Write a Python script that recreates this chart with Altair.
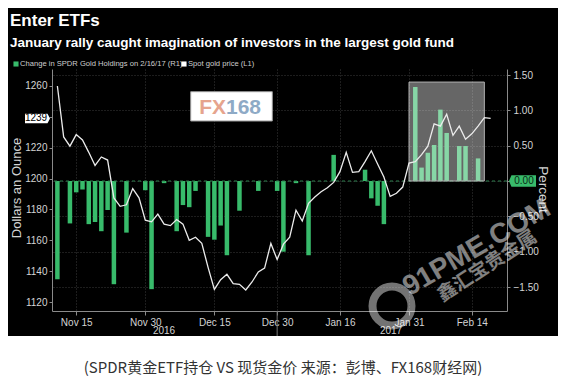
import json
import altair as alt
import pandas as pd

# ---------------- data ----------------
dates = [
    "2016-11-10", "2016-11-11", "2016-11-14", "2016-11-15", "2016-11-16", "2016-11-17", "2016-11-18",
    "2016-11-21", "2016-11-22", "2016-11-23", "2016-11-24", "2016-11-25", "2016-11-28", "2016-11-29",
    "2016-11-30", "2016-12-01", "2016-12-02", "2016-12-05", "2016-12-06", "2016-12-07", "2016-12-08",
    "2016-12-09", "2016-12-12", "2016-12-13", "2016-12-14", "2016-12-15", "2016-12-16", "2016-12-19",
    "2016-12-20", "2016-12-21", "2016-12-22", "2016-12-23", "2016-12-27", "2016-12-28", "2016-12-29",
    "2016-12-30", "2017-01-03", "2017-01-04", "2017-01-05", "2017-01-06", "2017-01-09", "2017-01-10",
    "2017-01-11", "2017-01-12", "2017-01-13", "2017-01-16", "2017-01-17", "2017-01-18", "2017-01-19",
    "2017-01-20", "2017-01-23", "2017-01-24", "2017-01-25", "2017-01-26", "2017-01-27", "2017-01-30",
    "2017-01-31", "2017-02-01", "2017-02-02", "2017-02-03", "2017-02-06", "2017-02-07", "2017-02-08",
    "2017-02-09", "2017-02-10", "2017-02-13", "2017-02-14", "2017-02-15", "2017-02-16", "2017-02-17",
]
prices = [
    1260, 1227, 1221, 1228.5, 1225, 1217, 1208.5, 1214, 1212, 1187.5,
    1182, 1183, 1193.5, 1187.5, 1173, 1172, 1177, 1170.5, 1169.5, 1173.5,
    1170.5, 1160, 1162, 1158, 1142.5, 1128.2, 1134.5, 1138, 1132, 1131.5,
    1127.8, 1133, 1139.5, 1142, 1158, 1147.5, 1157.5, 1162, 1179.5, 1172.5,
    1184, 1188, 1191.5, 1194, 1197.5, 1204.5, 1217, 1204, 1204.5, 1211,
    1218, 1209.5, 1201, 1188.5, 1190.5, 1194.5, 1210, 1211, 1215.5, 1221,
    1235.5, 1234, 1241.7, 1228, 1234, 1225.5, 1229, 1234, 1239.5, 1239,
]
bar_dates = [
    "2016-11-10", "2016-11-14", "2016-11-15", "2016-11-16", "2016-11-17", "2016-11-18", "2016-11-21",
    "2016-11-22", "2016-11-23", "2016-11-25", "2016-11-30", "2016-12-01", "2016-12-05", "2016-12-07",
    "2016-12-08", "2016-12-09", "2016-12-12", "2016-12-14", "2016-12-15", "2016-12-16", "2016-12-19",
    "2016-12-21", "2016-12-27", "2016-12-30", "2017-01-03", "2017-01-05", "2017-01-09", "2017-01-13",
    "2017-01-20", "2017-01-23", "2017-01-24", "2017-01-25", "2017-02-01", "2017-02-02", "2017-02-03",
    "2017-02-06", "2017-02-07", "2017-02-08", "2017-02-10", "2017-02-13", "2017-02-15",
]
bar_values = [
    -1.39, -0.60, -0.16, -0.12, -0.61, -0.58, -0.71,
    -0.41, -1.46, -0.73, -0.13, -1.53, -0.03, -0.71,
    -0.34, -0.37, -0.14, -0.79, -0.83, -0.63, -1.05,
    -0.42, -0.14, -0.14, -1.00, -0.03, -1.05, 0.37,
    0.16, -0.245, -0.35, -0.61, 1.33, 0.19, 0.40,
    0.51, 1.01, 0.68, 0.495, 0.495, 0.32,
]
tick_dates = ["2016-11-15", "2016-11-30", "2016-12-15", "2016-12-30", "2017-01-16", "2017-01-31", "2017-02-14"]
tick_labels = ["Nov 15", "Nov 30", "Dec 15", "Dec 30", "Jan 16", "Jan 31", "Feb 14"]
price_ticks = [1120, 1140, 1160, 1180, 1200, 1220, 1240, 1260]
pct_ticks = [-1.5, -1.0, -0.5, 0.0, 0.5, 1.0, 1.5]
box_dates = ["2017-01-31", "2017-02-16"]
box_top = [1.40]
year_labels = ["2016", "2017"]
year_split = "2016-12-30"

title_text = "Enter ETFs"
subtitle_text = "January rally caught imagination of investors in the largest gold fund"
legend_texts = ["Change in SPDR Gold Holdings on 2/16/17 (R1)", "Spot gold price (L1)"]
left_title = "Dollars an Ounce"
right_title = "Percent"
caption_text = "(SPDR黄金ETF持仓 VS 现货金价 来源：彭博、FX168财经网)"

# ---------------- frames ----------------
idx = {d: i for i, d in enumerate(dates)}
price_df = pd.DataFrame({"i": list(range(len(dates))), "price": prices})
bar_df = pd.DataFrame({"i": [idx[d] for d in bar_dates], "pct": bar_values, "zero": 0.0})
box_df = pd.DataFrame({"x": [idx[box_dates[0]]], "x2": [idx[box_dates[1]]], "top": box_top, "zero": [0.0]})
last_df = pd.DataFrame({"p": [prices[-1]]})
zero_df = pd.DataFrame({"z": [0.0]})
sep_df = pd.DataFrame({"s": [idx[year_split]]})
one = pd.DataFrame({"a": [0]})
tick_idx = [idx[d] for d in tick_dates]

W, H = 455, 242
FONT = "Liberation Sans, Arial, sans-serif"
CJK = "Noto Sans CJK SC, sans-serif"
GREEN = "#38bb6b"
LBL = "#d4d4d4"

xscale = alt.Scale(domain=[-0.06, 70.81], nice=False, zero=False)
yl = alt.Scale(domain=[1114.2, 1271.0], nice=False, zero=False)
yr = alt.Scale(domain=[-1.839, 1.585], nice=False, zero=False)

x_axis = alt.Axis(
    values=tick_idx,
    labelExpr=f"{json.dumps(tick_labels)}[indexof({json.dumps(tick_idx)}, datum.value)]",
    title=None, grid=True, gridColor="#3a3a3a", gridDash=[1, 2],
    domainColor="#8a8a8a", tickColor="#8a8a8a", tickSize=4,
    labelColor=LBL, labelFontSize=10, labelFont=FONT, labelPadding=2, labelFlush=False,
)
l_axis = alt.Axis(
    orient="left", values=price_ticks, format="d",
    labelExpr="datum.value == 1240 ? '' : datum.label",
    title=None,
    labelColor=LBL, labelFontSize=10, labelFont=FONT, labelPadding=2,
    domainColor="#8a8a8a", tickColor="#8a8a8a", tickSize=3, grid=False,
)
r_axis = alt.Axis(
    orient="right", values=pct_ticks, format=".2f",
    labelExpr="datum.value == 0 ? '' : datum.label",
    title=None,
    labelColor=LBL, labelFontSize=10, labelFont=FONT, labelPadding=3,
    domainColor="#8a8a8a", tickColor="#8a8a8a", tickSize=3,
    grid=True, gridColor="#3a3a3a", gridDash=[1, 2],
)


def txt(text, x, y, **kw):
    return alt.Chart(one).mark_text(text=text, **kw).encode(x=alt.value(x), y=alt.value(y))


# background (white caption area under the black panel)
bg = alt.Chart(one).mark_rect(color="white").encode(
    x=alt.value(-44), x2=alt.value(506), y=alt.value(267), y2=alt.value(312)
)

# right (percent) layers
bars = alt.Chart(bar_df).mark_bar(size=4.5, color=GREEN, clip=True).encode(
    x=alt.X("i:Q", scale=xscale, axis=x_axis),
    y=alt.Y("pct:Q", scale=yr, axis=r_axis),
    y2="zero:Q",
)
zero_rule = alt.Chart(zero_df).mark_rule(color="#2f8050", strokeDash=[3, 3], strokeWidth=1).encode(
    y=alt.Y("z:Q", scale=yr, axis=r_axis)
)
box = alt.Chart(box_df).mark_rect(fill="white", fillOpacity=0.4, stroke="#b0b0b0", strokeWidth=1).encode(
    x=alt.X("x:Q", scale=xscale, axis=x_axis), x2="x2:Q",
    y=alt.Y("top:Q", scale=yr, axis=r_axis), y2="zero:Q",
)
zero_tag = alt.Chart(zero_df).mark_point(
    shape="M -1 0 L -0.82 -0.42 L 1 -0.42 L 1 0.42 L -0.82 0.42 Z",
    size=729, filled=True, fill=GREEN, opacity=1, strokeWidth=0,
).encode(x=alt.value(470.5), y=alt.Y("z:Q", scale=yr, axis=r_axis))
zero_txt = alt.Chart(zero_df).mark_text(
    fontSize=10, font=FONT, color="#0a2a14", align="center", baseline="middle"
).encode(x=alt.value(472), y=alt.Y("z:Q", scale=yr, axis=r_axis), text=alt.Text("z:Q", format=".2f"))
right = alt.layer(bars, zero_rule, box, zero_tag, zero_txt)

# left (price) layers
line = alt.Chart(price_df).mark_line(color="#ececec", strokeWidth=1.3).encode(
    x=alt.X("i:Q", scale=xscale, axis=x_axis),
    y=alt.Y("price:Q", scale=yl, axis=l_axis),
)
last_tag = alt.Chart(last_df).mark_point(
    shape="M -1 -0.38 L 0.8 -0.38 L 1 0 L 0.8 0.38 L -1 0.38 Z",
    size=625, filled=True, fill="white", opacity=1, strokeWidth=0,
).encode(x=alt.value(-14.5), y=alt.Y("p:Q", scale=yl, axis=l_axis))
last_txt = alt.Chart(last_df).mark_text(
    fontSize=10, font=FONT, color="black", align="center", baseline="middle"
).encode(x=alt.value(-16), y=alt.Y("p:Q", scale=yl, axis=l_axis), text=alt.Text("p:Q", format=".0f"))
left = alt.layer(line, last_tag, last_txt)

# decorations
sep = alt.Chart(sep_df).mark_rule(color="#777", strokeWidth=1).encode(
    x=alt.X("s:Q", scale=xscale, axis=x_axis), y=alt.value(242), y2=alt.value(267)
)
fg = [
    txt(title_text, -42, -43, align="left", baseline="alphabetic", fontSize=17, fontWeight="bold",
        color="white", font=FONT),
    txt(subtitle_text, -42, -22, align="left", baseline="alphabetic", fontSize=13.5, fontWeight="bold",
        color="white", font=FONT),
    alt.Chart(one).mark_square(size=26, color=GREEN, opacity=1).encode(x=alt.value(-36), y=alt.value(-5)),
    txt(legend_texts[0], -32, -5, align="left", baseline="middle", fontSize=7.6, color="#cfcfcf", font=FONT),
    alt.Chart(one).mark_square(size=26, color="white", opacity=1).encode(x=alt.value(132), y=alt.value(-5)),
    txt(legend_texts[1], 136, -5, align="left", baseline="middle", fontSize=7.6, color="#cfcfcf", font=FONT),
    txt(left_title, -35, 119, align="center", baseline="middle", fontSize=13, angle=270,
        color=LBL, font=FONT),
    txt(right_title, 491, 120.5, align="center", baseline="middle", fontSize=13.5, angle=90,
        color=LBL, font=FONT),
    alt.Chart(one).mark_rect(fill="white", stroke="#9a9a9a", strokeWidth=1).encode(
        x=alt.value(138.7), x2=alt.value(220.3), y=alt.value(22.7), y2=alt.value(52)),
    txt("FX", 174, 39, align="right", baseline="middle", fontSize=21, fontWeight="bold",
        color="#e6a48d", font=FONT),
    txt("168", 174, 39, align="left", baseline="middle", fontSize=21, fontWeight="bold",
        color="#8eaac6", font=FONT),
    txt(year_labels[0], 112, 262, align="center", baseline="middle", fontSize=10, color=LBL, font=FONT),
    txt(year_labels[1], 339, 262, align="center", baseline="middle", fontSize=10, color=LBL, font=FONT),
    sep,
    txt(caption_text, 231, 299, align="center", baseline="middle", fontSize=15, color="#333333", font=CJK),
    alt.Chart(one).mark_point(shape="circle", size=1520, filled=False, color="white", opacity=0.45,
                              strokeWidth=8).encode(x=alt.value(340), y=alt.value(237)),
    txt("91PME.COM", 425, 179, align="center", baseline="middle", fontSize=28, fontWeight="bold",
        color="white", opacity=0.5, angle=330, font=FONT),
    txt("鑫汇宝贵金属", 435, 197, align="center", baseline="middle", fontSize=19, fontWeight="bold",
        color="white", opacity=0.5, angle=327, font=CJK),
]

chart = alt.layer(bg, right, left, *fg).resolve_scale(y="independent").properties(
    width=W, height=H,
    padding={"left": 44, "top": 61, "right": 51, "bottom": 67},
    autosize=alt.AutoSizeParams(type="none"),
    background="black",
).configure_view(stroke=None)

chart.save("out.html", embed_options={"renderer": "svg", "actions": False})
